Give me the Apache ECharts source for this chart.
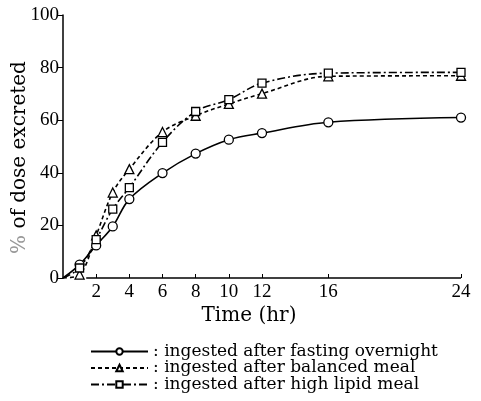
<!DOCTYPE html>
<html><head><meta charset="utf-8">
<script src="https://cdn.jsdelivr.net/npm/echarts@6/dist/echarts.min.js"></script>
<style>html,body{margin:0;padding:0;background:#fff}#c{width:481px;height:401px}</style>
</head><body><div id="c"></div>
<script>
const hours = [0, 1, 2, 3, 4, 6, 8, 10, 12, 16, 24];
const fasting = [0, 5.1, 12.4, 19.6, 30.0, 39.9, 47.3, 52.6, 55.1, 59.2, 61.0];
const balanced = [0, 1.3, 16.2, 32.5, 41.4, 55.5, 61.7, 66.2, 70.1, 76.7, 76.9];
const lipid = [0, 3.8, 14.6, 26.2, 34.4, 51.6, 63.3, 67.8, 74.1, 77.9, 78.2];
const xTicks = [2, 4, 6, 8, 10, 12, 16, 24];
const names = ['ingested after fasting overnight', 'ingested after balanced meal', 'ingested after high lipid meal'];

const FONT = 'Liberation Serif';
const FONT2 = 'DejaVu Serif';
function pts(vals) {
  return hours.map((h, i) => i === 0 ? {value: [h, vals[i]], symbol: 'none'} : [h, vals[i]]);
}
function ser(name, vals, symbol, type, size) {
  return {
    name, type: 'line', data: pts(vals), smooth: 0.35, symbol, symbolSize: size,
    showAllSymbol: true,
    lineStyle: {color: '#000', width: 1.6, type},
    itemStyle: {color: '#fff', borderColor: '#000', borderWidth: 1.3},
    z: 3
  };
}
const series = [
  ser(names[0], fasting, 'circle', 'solid', 9),
  ser(names[1], balanced, 'triangle', [4, 3], 9),
  ser(names[2], lipid, 'rect', [8, 3, 2, 3], 8)
];
series[0].markLine = {
  silent: true, symbol: 'none', label: {show: false},
  lineStyle: {color: '#000', width: 1.5, type: 'solid'},
  data: [[{coord: [1.4, 0]}, {coord: [24, 0]}]]
};
const legendTops = [343, 359.5, 376];
const legends = names.map((n, i) => ({
  orient: 'vertical', left: 90, top: legendTops[i], padding: 0, itemWidth: 57, itemHeight: 8,
  data: [n], formatter: s => ': ' + s,
  textStyle: {fontFamily: FONT2, fontSize: 17, color: '#000'}
}));
const chart = echarts.init(document.getElementById('c'));
chart.setOption({
  animation: false,
  backgroundColor: '#fff',
  grid: {left: 63, right: 20, top: 15, bottom: 123, outerBoundsMode: 'none'},
  xAxis: {
    type: 'value', min: 0, max: 24, interval: 2,
    name: 'Time (hr)', nameLocation: 'middle', nameGap: 28, nameMoveOverlap: false,
    nameTextStyle: {fontFamily: FONT2, fontSize: 20, color: '#000', padding: [0, 26, 0, 0]},
    axisLine: {show: false},
    axisTick: {show: true, inside: true, length: 4, customValues: xTicks, lineStyle: {color: '#000'}},
    axisLabel: {customValues: xTicks, fontFamily: FONT, fontSize: 19, color: '#000', margin: 5},
    splitLine: {show: false}
  },
  yAxis: {
    type: 'value', min: 0, max: 100, interval: 20,
    name: '{p|%} of dose excreted', nameLocation: 'middle', nameGap: 33, nameMoveOverlap: false,
    nameTextStyle: {fontFamily: FONT2, fontSize: 20, color: '#000', padding: [0, 22, 0, 0],
      rich: {p: {fontFamily: FONT2, fontSize: 20, color: '#999'}}},
    axisLine: {show: true, lineStyle: {color: '#000', width: 1.5}},
    axisTick: {show: true, length: 5, lineStyle: {color: '#000'}},
    axisLabel: {fontFamily: FONT, fontSize: 19, color: '#000', margin: 4},
    splitLine: {show: false}
  },
  legend: legends,
  series
});
</script></body></html>
